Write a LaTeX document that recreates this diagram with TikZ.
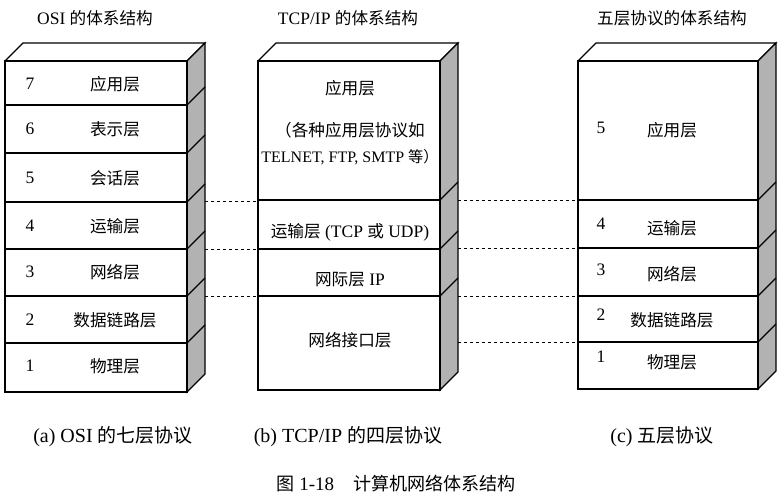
\documentclass[tikz,border=0pt]{standalone}
\usepackage{fontspec}
\setmainfont{Liberation Serif}
\newfontfamily\cjk{Noto Sans CJK SC}[Scale=0.95]
\begin{document}
\begin{tikzpicture}[x=1pt,y=-1pt,
  lbl/.style={font=\fontsize{17.5}{20}\selectfont,inner sep=0pt},
  face/.style={draw,line width=1.2pt,fill=white},
  side/.style={draw,line width=1.2pt,fill=gray!60},
  dsh/.style={dashed,line width=0.7pt}]
\useasboundingbox (0,0) rectangle (784,500);
\newcommand{\stackbox}[4]{%
  \fill[white] (#1,61)--(#1+18,43)--(#2+18,43)--(#2,61)--cycle;
  \draw[line width=1.2pt] (#1,61)--(#1+18,43)--(#2+18,43)--(#2,61);
  \draw[side] (#2,61)--(#2+18,43)--(#2+18,#3-18)--(#2,#3)--cycle;
  \draw[face] (#1,61) rectangle (#2,#3);
  \foreach \yy in {#4} {\draw[line width=1.2pt] (#1,\yy)--(#2,\yy); \draw[line width=1.2pt] (#2,\yy)--(#2+18,\yy-18);}
}
\stackbox{5}{187}{392}{105,153,202,249,296,343}
\stackbox{258}{440}{390}{200,249,296}
\stackbox{578}{758}{389}{200,248,296,342}
\foreach \yy in {201,249,296} \draw[dsh] (205,\yy)--(258,\yy);
\foreach \yy in {200,248,296,342} \draw[dsh] (458,\yy)--(578,\yy);
\node[lbl] (t1) at (95,18) {OSI {\cjk 的体系结构}};
\node[lbl] (t2) at (348,18) {TCP/IP {\cjk 的体系结构}};
\node[lbl] (t3) at (672,18) {\cjk 五层协议的体系结构};
\foreach \n/\t/\yy in {7/应用层/84,6/表示层/129,5/会话层/178,4/运输层/226,3/网络层/272,2/数据链路层/320,1/物理层/366}{
  \node[lbl] at (30,\yy) {\n}; \node[lbl] at (115,\yy) {\cjk \t};}
\node[lbl] (m1) at (350,88) {\cjk 应用层};
\node[lbl] (m2) at (350,130) {{\cjk （各种应用层协议如}};
\node[lbl,font=\fontsize{16}{19}\selectfont] (m3) at (350,157) {TELNET, FTP, SMTP {\cjk 等）}};
\node[lbl] (m4) at (350,232) {{\cjk 运输层} (TCP {\cjk 或} UDP)};
\node[lbl] (m5) at (350,280) {{\cjk 网际层} IP};
\node[lbl] (m6) at (350,340) {\cjk 网络接口层};
\foreach \n/\t/\yy/\ny in {5/应用层/130/128,4/运输层/228/224,3/网络层/274/270,2/数据链路层/320/315,1/物理层/362/357}{
  \node[lbl] at (601,\ny) {\n}; \node[lbl] at (672,\yy) {\cjk \t};}
\node[lbl,font=\fontsize{20}{24}\selectfont] (c1) at (113,437) {(a) OSI {\cjk 的七层协议}};
\node[lbl,font=\fontsize{20}{24}\selectfont] (c2) at (348,437) {(b) TCP/IP {\cjk 的四层协议}};
\node[lbl,font=\fontsize{20}{24}\selectfont] (c3) at (662,437) {(c)\ {\cjk 五层协议}};
\node[lbl,font=\fontsize{19}{22}\selectfont] (f) at (396,484) {{\cjk 图} 1-18\quad{\cjk 计算机网络体系结构}};
\end{tikzpicture}
\end{document}
